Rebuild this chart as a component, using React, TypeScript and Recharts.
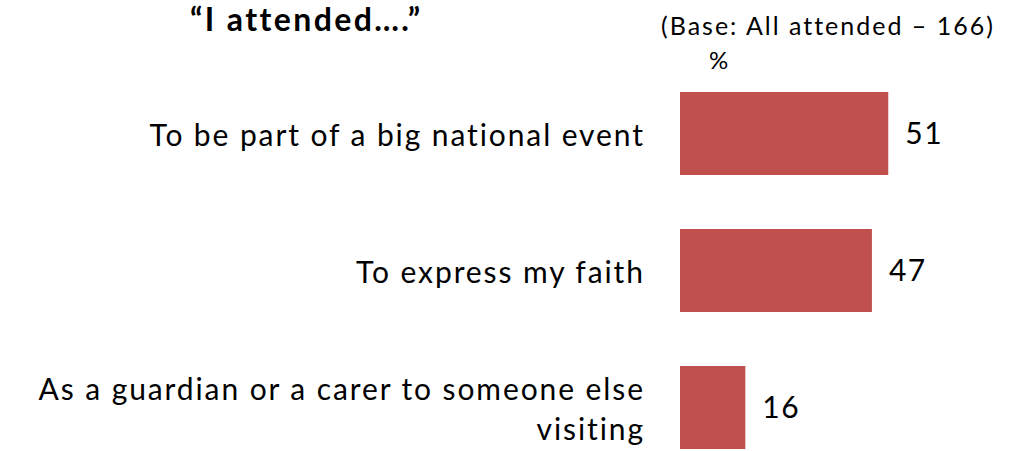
import { Bar, BarChart, LabelList, XAxis, YAxis } from "recharts";

const categories = [
  "To be part of a big national event",
  "To express my faith",
  "As a guardian or a carer to someone else visiting",
];
const values = [51, 47, 16];
const title = "\u201cI attended\u2026.\u201d";
const baseNote = "(Base: All attended \u2013 166)";
const unitLabel = "%";

const data = categories.map((name, i) => ({ name, value: values[i] }));

const FONT = "Lato, 'Open Sans', sans-serif";
const BAR_COLOR = "#C0504D";

function wrap(text: string, max: number) {
  const lines: string[] = [];
  let cur = "";
  for (const w of text.split(" ")) {
    const next = cur ? cur + " " + w : w;
    if (next.length > max && cur) {
      lines.push(cur);
      cur = w;
    } else {
      cur = next;
    }
  }
  if (cur) lines.push(cur);
  return lines;
}

function CategoryTick({ x, y, payload }: any) {
  const lines = wrap(payload.value, 40);
  const lh = 40;
  const startDy = -((lines.length - 1) * lh) / 2;
  // letter-spacing also trails the last glyph, so shift right to compensate
  const ax = x + 1.9;
  return (
    <text
      x={ax}
      y={y}
      textAnchor="end"
      fontFamily={FONT}
      fontSize={30}
      letterSpacing={1.9}
      fill="#000"
    >
      {lines.map((l, i) => (
        <tspan key={i} x={ax} dy={i === 0 ? startDy : lh} dominantBaseline="central">
          {l}
        </tspan>
      ))}
    </text>
  );
}

export default function App() {
  return (
    <div
      style={{
        position: "absolute",
        left: 0,
        top: 0,
        width: 1023,
        height: 451,
        overflow: "hidden",
        background: "#fff",
        fontFamily: FONT,
      }}
    >
      <BarChart
        width={1023}
        height={480}
        data={data}
        layout="vertical"
        margin={{ top: 65, right: 98, bottom: 4, left: 0 }}
        barSize={83}
      >
        <XAxis type="number" domain={[0, 60]} hide />
        <YAxis
          type="category"
          dataKey="name"
          width={680}
          axisLine={false}
          tickLine={false}
          tickMargin={31}
          tick={<CategoryTick />}
          interval={0}
        />
        <Bar dataKey="value" fill={BAR_COLOR} isAnimationActive={false}>
          <LabelList
            dataKey="value"
            position="right"
            offset={17}
            fill="#000"
            fontSize={30}
            letterSpacing={1.5}
            fontFamily={FONT}
          />
        </Bar>
      </BarChart>
      <div
        style={{
          position: "absolute",
          left: 190,
          top: -2,
          fontSize: 32,
          fontWeight: 700,
          letterSpacing: 2.4,
          lineHeight: "42px",
          color: "#000",
        }}
      >
        {title}
      </div>
      <div
        style={{
          position: "absolute",
          left: 661,
          top: 7,
          fontSize: 25,
          letterSpacing: 2,
          lineHeight: "36px",
          color: "#000",
        }}
      >
        {baseNote}
      </div>
      <div
        style={{
          position: "absolute",
          left: 709,
          top: 43,
          fontSize: 24,
          lineHeight: "34px",
          color: "#000",
        }}
      >
        {unitLabel}
      </div>
    </div>
  );
}
